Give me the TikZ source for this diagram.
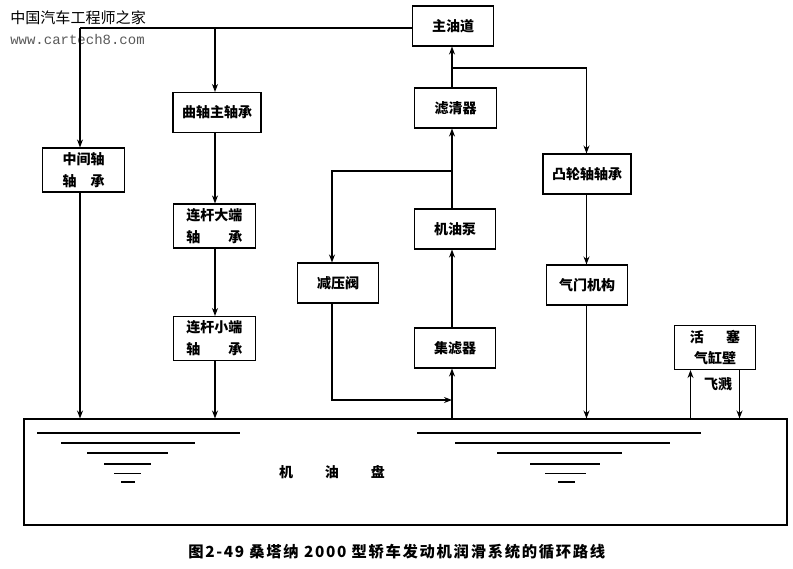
\documentclass[tikz,border=0pt]{standalone}
\usepackage{fontspec}
\setmainfont{Noto Sans CJK SC}
\newfontfamily\urlfont{Liberation Mono}
\usepackage{tikz}
\usetikzlibrary{arrows.meta}
\tikzstyle{process} = [rectangle, minimum width=61pt, minimum height=30pt, inner sep=0pt, text centered, draw=black, thick, font=\fontsize{10.5}{16.5}\selectfont\bfseries, align=center]
\tikzstyle{twoline} = [process, minimum height=33pt]
\tikzstyle{wide} = [process, minimum width=66pt]
\tikzstyle{sump} = [rectangle, minimum width=572.25pt, minimum height=79.5pt, draw=black, thick]
\tikzstyle{arrow} = [thick,->,>={Stealth[length=6pt,width=4.5pt]}]
\tikzstyle{level} = [thick]
\tikzstyle{plain} = [font=\fontsize{10.5}{12}\selectfont\bfseries, inner sep=0pt]

\begin{document}
\begin{tikzpicture}[node distance=90pt, x=0.75pt, y=-0.75pt]
    \useasboundingbox (0,0) rectangle (793,568);

    % right half
    \node (mainoil) [process] at (453,26) {主油道};
    \node (filter) [process, below of=mainoil, xshift=1.9pt, yshift=28.5pt] {滤清器};
    \node (pump) [process, below of=filter, xshift=-0.4pt, yshift=-0.75pt] {机油泵};
    \node (strainer) [process, below of=pump, yshift=0.75pt] {集滤器};
    \node (relief) [process, left of=pump, xshift=2.25pt, yshift=-40.5pt] {减压阀};
    \node (cam) [wide, right of=filter, xshift=8.6pt, yshift=-49.5pt] {凸轮轴轴承};
    \node (valve) [process, below of=cam, yshift=6.75pt] {气门机构};
    \node (piston) [twoline, right of=valve, xshift=6pt, yshift=-46.9pt] {活\hspace{1.6em}塞\\[-1pt]气缸壁};

    % left half
    \node (crank) [wide] at (217,112.5) {曲轴主轴承};
    \node (bigend) [twoline, below of=crank, xshift=-1.9pt, yshift=4.9pt] {连杆大端\\轴\hspace{2em}承};
    \node (smallend) [twoline, below of=bigend, yshift=5.6pt] {连杆小端\\轴\hspace{2em}承};
    \node (middle) [twoline, left of=crank, xshift=-10.1pt, yshift=-43.1pt] {中间轴\\轴\hspace{1em}承};

    \node (pan) [sump] at (405.5,472) {};
    \node (pantext) [plain] at (332,472) {机\hspace{24pt}油\hspace{24pt}盘};
    \node (splash) [plain] at (718,384) {飞溅};

    \node (logo) [plain, anchor=west, font=\fontsize{11.3}{12}\selectfont] at (10,18) {中国汽车工程师之家};
    \node (url) [anchor=west, inner sep=0pt, text=black!65, font=\fontsize{10.5}{12}\urlfont] at (10,39) {www.cartech8.com};
    \node (caption) [anchor=west, inner sep=0pt, font=\fontsize{11.5}{12}\selectfont\bfseries\addfontfeature{LetterSpace=11}] at (188,552) {图2-49 桑塔纳 2000 型轿车发动机润滑系统的循环路线};

    \coordinate (colA) at (80,28);
    \coordinate (colB) at (215,28);
    \coordinate (colC) at (332,171);
    \coordinate (colD) at (452,171);
    \coordinate (colE) at (586.5,68);
    \coordinate (split) at (452,68);
    \coordinate (merge) at (452,400);
    \coordinate (colUp) at (690.5,400);
    \coordinate (colDown) at (739.5,400);

    \draw [thick] (mainoil.west |- colA) -- (colA);
    \draw [arrow] (colA) -- (colA |- middle.north);
    \draw [arrow] (colA |- middle.south) -- (colA |- pan.north);
    \draw [arrow] (colB) -- (colB |- crank.north);
    \draw [arrow] (colB |- crank.south) -- (colB |- bigend.north);
    \draw [arrow] (colB |- bigend.south) -- (colB |- smallend.north);
    \draw [arrow] (colB |- smallend.south) -- (colB |- pan.north);

    \draw [arrow] (colD |- pan.north) -- (colD |- strainer.south);
    \draw [arrow] (colD |- strainer.north) -- (colD |- pump.south);
    \draw [arrow] (colD |- pump.north) -- (colD |- filter.south);
    \draw [arrow] (colD |- filter.north) -- (colD |- mainoil.south);
    \draw [arrow] (colD) -- (colC) -- (colC |- relief.north);
    \draw [arrow] (colC |- relief.south) |- (merge);
    \draw [arrow] (split) -- (colE) -- (colE |- cam.north);
    \draw [arrow] (colE |- cam.south) -- (colE |- valve.north);
    \draw [arrow] (colE |- valve.south) -- (colE |- pan.north);

    \draw [arrow] (colUp |- pan.north) -- (colUp |- piston.south);
    \draw [arrow] (colDown |- piston.south) -- (colDown |- pan.north);

    % oil levels
    \draw [level] (37,433) -- (240,433);
    \draw [level] (61,443) -- (195,443);
    \draw [level] (87,453) -- (168,453);
    \draw [level] (104,464) -- (151,464);
    \draw [level] (114,473.5) -- (141,473.5);
    \draw [level] (121,482) -- (135,482);
    \draw [level] (417,433) -- (701,433);
    \draw [level] (455,443) -- (670,443);
    \draw [level] (497,453) -- (622,453);
    \draw [level] (530,464) -- (600,464);
    \draw [level] (545,473.5) -- (586,473.5);
    \draw [level] (558,482) -- (575,482);
\end{tikzpicture}
\end{document}
